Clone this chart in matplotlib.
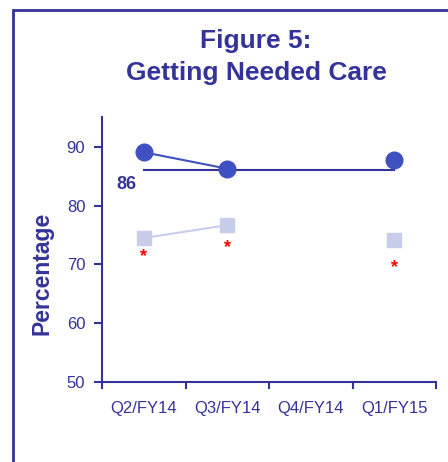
import numpy as np
import matplotlib.pyplot as plt
from matplotlib.patches import Rectangle

plt.rcParams['font.family'] = ['Liberation Sans', 'DejaVu Sans']

# data
quarters = ['Q2/FY14', 'Q3/FY14', 'Q4/FY14', 'Q1/FY15']
plan_scores = [89.1, 86.3, np.nan, 87.8]
other_scores = [74.5, 76.7, np.nan, 74.1]
flag_y = [71.3, 72.9, np.nan, 69.5]
benchmark = 86

NAVY = '#333399'
DARK = '#3f51c0'
LIGHT = '#c9cdec'

DPI = 100
fig = plt.figure(figsize=(448/DPI, 462/DPI), dpi=DPI)

# outer frame (only left and top edges visible in the crop)
fig.add_artist(Rectangle((13/448, -0.1), 1.2, 1 - 10/462 + 0.1,
                         transform=fig.transFigure, fill=False,
                         edgecolor=NAVY, linewidth=2, clip_on=False))

ax = fig.add_axes([102/448, 80/462, 334/448, 265/462])
x = np.arange(len(quarters))

ax.plot([x[0], x[-1]], [benchmark, benchmark], color=NAVY, linewidth=1.5, zorder=2)
ax.plot(x, other_scores, color=LIGHT, linewidth=1.5, marker='s',
        markersize=10, markerfacecolor=LIGHT, markeredgecolor=LIGHT, zorder=3)
ax.plot(x, plan_scores, color=DARK, linewidth=1.5, marker='o',
        markersize=12, markerfacecolor=DARK, markeredgecolor=DARK, zorder=4)

for xi, fy in zip(x, flag_y):
    if not np.isnan(fy):
        ax.text(xi, fy, '*', color='red', fontsize=13, fontweight='bold',
                ha='center', va='center')

ax.text(-0.09, benchmark - 2.4, str(benchmark), color=NAVY, fontsize=13,
        fontweight='bold', ha='right', va='center')

ax.set_xlim(-0.5, len(quarters) - 0.5)
ax.set_ylim(50, 95.1)
ax.set_yticks([50, 60, 70, 80, 90])
ax.set_xticks(x)
ax.set_xticklabels(quarters)
ax.set_xticks(np.arange(len(quarters) + 1) - 0.5, minor=True)
ax.tick_params(axis='x', which='major', length=0, pad=14, labelsize=12, labelcolor=NAVY)
ax.tick_params(axis='x', which='minor', length=5, width=1.5, color=NAVY)
ax.tick_params(axis='y', length=6, width=1.5, color=NAVY, labelsize=12,
               labelcolor=NAVY, pad=6)

for side in ['top', 'right']:
    ax.spines[side].set_visible(False)
for side in ['left', 'bottom']:
    ax.spines[side].set_color(NAVY)
    ax.spines[side].set_linewidth(1.5)

ax.set_ylabel('Percentage', color=NAVY, fontsize=16.5, fontweight='bold')
ax.yaxis.set_label_coords(-0.145, 0.41)

fig.text(256/448, 1 - 41/462, 'Figure 5:', color=NAVY, fontsize=19,
         fontweight='bold', ha='center', va='center')
fig.text(256/448, 1 - 73/462, 'Getting Needed Care', color=NAVY, fontsize=19,
         fontweight='bold', ha='center', va='center')

plt.savefig('out.png', dpi=DPI)
